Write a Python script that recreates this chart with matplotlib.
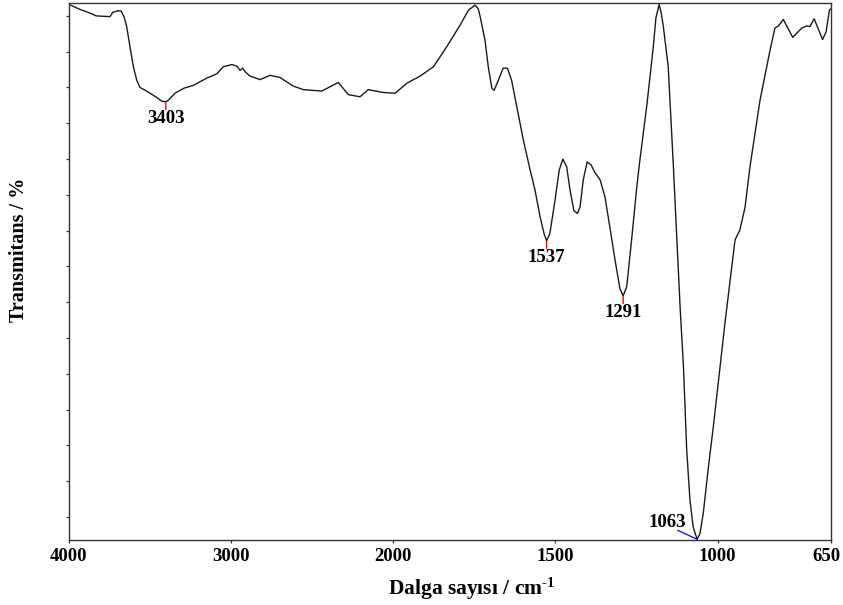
import numpy as np
import matplotlib
matplotlib.use("Agg")
import matplotlib.pyplot as plt
from matplotlib.transforms import ScaledTranslation

plt.rcParams['font.family'] = ['Liberation Serif', 'DejaVu Serif']
plt.rcParams['font.weight'] = 'bold'
plt.rcParams['mathtext.fontset'] = 'custom'
plt.rcParams['mathtext.rm'] = 'Liberation Serif:bold'
plt.rcParams['mathtext.bf'] = 'Liberation Serif:bold'
plt.rcParams['mathtext.default'] = 'bf'

# FTIR spectrum (wavenumber in cm-1, transmittance in %)
wavenumber = [4000, 3932, 3860, 3833, 3747, 3730, 3702, 3679, 3661, 3644,
              3624, 3603, 3582, 3562, 3521, 3459, 3428, 3403, 3388, 3346,
              3291, 3233, 3151, 3089, 3048, 2996, 2966, 2945, 2929, 2914,
              2884, 2822, 2760, 2699, 2617, 2555, 2441, 2339, 2277, 2205,
              2154, 2061, 1994, 1958, 1917, 1876, 1835, 1794, 1768, 1748,
              1738, 1732, 1717, 1707, 1696, 1689, 1676, 1661, 1648, 1635,
              1619, 1599, 1578, 1563, 1547, 1535, 1527, 1517, 1501, 1488,
              1477, 1465, 1455, 1443, 1432, 1424, 1414, 1402, 1390, 1378,
              1362, 1347, 1332, 1316, 1301, 1291, 1280, 1265, 1249, 1239,
              1218, 1198, 1190, 1180, 1174, 1167, 1152, 1136, 1121, 1115,
              1105, 1095, 1085, 1075, 1063, 1054, 1044, 1028, 1013, 992,
              977, 946, 931, 915, 900, 869, 838, 823, 812, 797,
              768, 740, 725, 715, 702, 684, 676, 665, 655, 650]
transmittance = [101.6, 100.9, 100.3, 100.0, 99.9, 100.5, 100.7, 100.7, 99.9, 98.5,
                 95.7, 92.9, 91.0, 90.0, 89.5, 88.6, 88.1, 88.0, 88.2, 89.2,
                 89.9, 90.3, 91.3, 91.9, 92.9, 93.2, 93.0, 92.4, 92.7, 92.2,
                 91.6, 91.1, 91.7, 91.4, 90.2, 89.7, 89.5, 90.7, 89.0, 88.7,
                 89.7, 89.3, 89.2, 90.6, 91.6, 92.9, 95.7, 98.7, 100.8, 101.5,
                 101.0, 99.9, 96.6, 92.9, 89.9, 89.6, 91.0, 92.7, 92.7, 91.0,
                 87.3, 82.7, 78.5, 75.7, 71.9, 69.6, 68.6, 69.6, 74.3, 78.5,
                 80.0, 78.9, 75.7, 72.8, 72.4, 73.3, 77.1, 79.6, 79.2, 78.1,
                 77.1, 74.7, 70.5, 65.9, 61.9, 60.9, 62.2, 68.7, 76.1, 80.0,
                 87.5, 95.7, 99.7, 101.6, 100.5, 98.5, 92.9, 78.9, 64.9, 59.0,
                 51.0, 39.4, 32.4, 28.6, 26.9, 27.7, 30.5, 37.0, 42.6, 51.0,
                 57.1, 68.7, 70.1, 73.3, 78.9, 88.2, 95.2, 98.3, 98.6, 99.5,
                 97.0, 98.3, 98.6, 98.5, 99.6, 97.6, 96.7, 97.8, 100.8, 101.0]

# marked bands: printed value and where the mark sits on the curve
peak_labels = ['3403', '1537', '1291']
peak_at = [3403, 1527, 1291]
label_1063 = '1063'
at_1063 = 1063
x_ticks = [4000, 3000, 2000, 1500, 1000, 650]


# instrument scale: below 2000 cm-1 the axis is stretched 2x
def forward(x):
    x = np.asarray(x, dtype=float)
    return np.where(x >= 2000, x, 2 * x - 2000)


def inverse(p):
    p = np.asarray(p, dtype=float)
    return np.where(p >= 2000, p, (p + 2000) / 2)


fig = plt.figure(figsize=(8.43, 6.05), dpi=100)
ax = fig.add_axes([69 / 843, 65 / 605, 762 / 843, 537 / 605])
ax.plot(wavenumber, transmittance, color='#1a1a1a', lw=1.0)

ax.set_xscale('function', functions=(forward, inverse))
ax.set_xlim(4000, 650)
ax.set_ylim(26.8, 101.8)
ax.set_xticks(x_ticks)
ax.set_xticklabels([str(t) for t in x_ticks])
ax.set_yticks(np.arange(30, 101, 5))
ax.set_yticklabels([])
ax.xaxis.set_minor_locator(matplotlib.ticker.NullLocator())
ax.tick_params(axis='both', direction='out', length=2.5, width=0.9, color='#333333',
               labelsize=13.5, pad=3.5)
for sp in ax.spines.values():
    sp.set_color('#333333')
    sp.set_linewidth(1.0)

# last tick label sits a little to the left, inside the figure
lab = ax.get_xticklabels()[-1]
lab.set_transform(lab.get_transform() + ScaledTranslation(-5 / 100, 0, fig.dpi_scale_trans))

wn = np.array(wavenumber)
tr = np.array(transmittance)
for txt, p in zip(peak_labels, peak_at):
    t = tr[wn == p][0]
    ax.annotate('', xy=(p, t - 0.1), xytext=(0, -5), textcoords='offset points',
                arrowprops=dict(arrowstyle='-', color='red', lw=1.0, shrinkA=0, shrinkB=0))
    ax.annotate(txt, xy=(p, t), xytext=(0, -6), textcoords='offset points',
                ha='center', va='top', fontsize=13.5, fontweight='bold')

t63 = tr[wn == at_1063][0]
ax.annotate('', xy=(at_1063, t63), xytext=(-14, 6.5), textcoords='offset points',
            arrowprops=dict(arrowstyle='-', color='blue', lw=0.9, shrinkA=0, shrinkB=0))
ax.annotate(label_1063, xy=(at_1063, t63), xytext=(-21.5, 12), textcoords='offset points',
            ha='center', va='center', fontsize=13.5, fontweight='bold')

ax.set_xlabel(r'Dalga sayısı / cm$^{\text{-1}}$', fontsize=15.5, fontweight='bold')
ax.set_ylabel('Transmitans / %', fontsize=14.5, fontweight='bold')
ax.xaxis.set_label_coords(0.529, -0.066)
ax.yaxis.set_label_coords(-0.053, 0.54)

fig.savefig('out.png', dpi=100)
